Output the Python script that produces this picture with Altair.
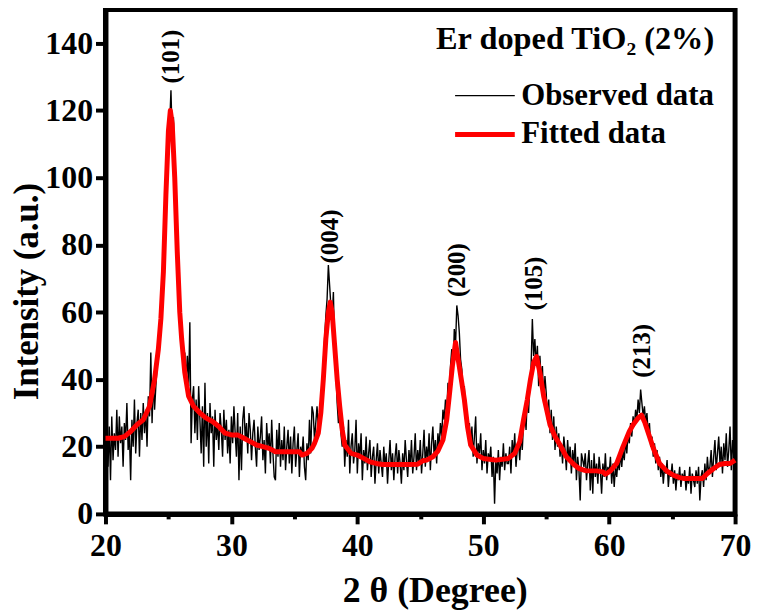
import altair as alt
import pandas as pd

# ---------------- data ----------------
obs_start = 20.0
obs_step = 0.1
obs_y = [
    22, 30, 14, 26, 10, 29, 16, 24, 19, 31,
    17, 29, 21, 26, 14, 27, 22, 33, 19, 24,
    10, 28, 20, 34, 18, 27, 31, 17, 30, 22,
    33, 24, 31, 20, 35, 29, 48, 27, 40, 31,
    38, 44, 47, 52, 56, 62, 70, 80, 92, 100,
    108, 116, 126, 112, 118, 96, 88, 76, 70, 62,
    55, 50, 44, 48, 40, 47, 38, 57, 21, 34,
    38, 24, 34, 22, 38, 28, 18, 32, 14, 39,
    20, 30, 15, 33, 24, 29, 14, 31, 22, 27,
    19, 30, 25, 17, 31, 22, 28, 18, 25, 15,
    29, 21, 32, 24, 17, 30, 10, 26, 13, 28,
    32, 22, 27, 18, 30, 25, 16, 24, 28, 20,
    14, 26, 19, 23, 29, 16, 22, 12, 27, 20,
    24, 15, 28, 18, 11, 10, 25, 17, 27, 14,
    22, 16, 26, 13, 20, 25, 15, 23, 12, 21,
    26, 14, 19, 24, 11, 20, 17, 23, 14, 10,
    21, 16, 28, 18, 32, 30, 22, 27, 32, 26,
    29, 33, 38, 45, 52, 59, 64, 74, 68, 62,
    58, 66, 48, 42, 33, 27, 30, 24, 20, 26,
    14, 22, 17, 28, 12, 20, 24, 15, 19, 28,
    12, 21, 17, 24, 10, 19, 15, 23, 13, 18,
    22, 11, 17, 20, 9, 16, 21, 12, 19, 15,
    11, 20, 14, 18, 9, 16, 22, 13, 18, 10,
    17, 21, 12, 19, 15, 9, 18, 13, 22, 16,
    11, 19, 14, 22, 12, 17, 24, 13, 19, 15,
    22, 12, 18, 25, 14, 20, 16, 24, 13, 21,
    26, 17, 22, 15, 24, 20, 27, 23, 31, 28,
    34, 30, 39, 35, 44, 49, 42, 55, 50, 62,
    59, 54, 46, 43, 34, 38, 28, 31, 24, 27,
    20, 26, 17, 23, 29, 15, 21, 18, 24, 13,
    19, 15, 22, 12, 18, 16, 20, 11, 17, 3,
    16, 12, 19, 10, 17, 14, 21, 13, 18, 15,
    15, 20, 12, 22, 17, 24, 14, 19, 21, 16,
    24, 19, 27, 31, 25, 35, 30, 39, 44, 58,
    47, 52, 44, 50, 38, 47, 40, 44, 33, 41,
    36, 28, 34, 24, 31, 22, 29, 19, 26, 20,
    24, 17, 21, 15, 23, 19, 13, 22, 16, 20,
    12, 19, 15, 21, 10, 17, 13, 4, 18, 16,
    14, 18, 10, 15, 19, 7, 16, 6, 18, 11,
    15, 9, 17, 13, 6, 15, 11, 18, 10, 14,
    12, 17, 9, 15, 8, 14, 11, 16, 13, 18,
    14, 19, 16, 22, 18, 24, 21, 27, 23, 29,
    26, 31, 28, 34, 30, 37, 33, 29, 32, 27,
    30, 24, 27, 20, 23, 17, 21, 15, 19, 13,
    17, 11, 15, 9, 14, 12, 16, 8, 13, 11,
    15, 9, 13, 7, 12, 10, 14, 8, 12, 10,
    13, 7, 11, 9, 14, 6, 12, 10, 8, 13,
    9, 14, 4, 11, 13, 8, 15, 10, 17, 12,
    14, 19, 11, 17, 22, 13, 18, 23, 15, 20,
    12, 21, 16, 24, 14, 19, 26, 13, 22, 17,
    19,
]
obs_x = [round(obs_start + i * obs_step, 1) for i in range(len(obs_y))]

fit_x = [20, 20.5, 21, 21.5, 22, 22.5, 23, 23.5, 23.9, 24.2, 24.4, 24.6, 24.8,
         25.0, 25.15, 25.3, 25.5, 25.7, 25.9, 26.05, 26.3, 26.6, 27, 27.5, 28,
         28.5, 29, 29.5, 30, 30.5, 31, 31.5, 32, 32.5, 33, 33.5, 34, 34.5, 35,
         35.4, 35.6, 36, 36.4, 36.6, 36.9, 37.1, 37.3, 37.5, 37.7, 37.85, 38.0,
         38.2, 38.4, 38.6, 38.8, 39.0, 39.5, 40, 40.5, 41, 41.5, 42, 43, 44,
         44.8, 45.2, 45.5, 46, 46.4, 46.8, 47.1, 47.3, 47.55, 47.8, 48.05, 48.3,
         48.5, 48.75, 49.0, 49.5, 50, 51, 52, 52.5, 52.9, 53.2, 53.5, 53.75,
         54.0, 54.23, 54.5, 54.8, 55.3, 55.7, 56.1, 56.6, 57.2, 57.6, 58.2, 59,
         59.5, 59.7, 60.1, 60.6, 61.1, 61.6, 61.9, 62.3, 62.57, 62.85, 63.2,
         63.5, 64.0, 64.55, 65.1, 65.6, 66, 67, 67.4, 67.8, 68.3, 68.76, 69.2,
         69.6, 70]
fit_y = [22.5, 22.5, 22.5, 23, 24.5, 26.5, 28, 32, 40, 49, 58, 72, 95,
         114, 120, 116, 100, 78, 60, 52, 42, 35, 32, 30, 28.5,
         27.5, 26, 24, 23.5, 23.5, 22.5, 21.5, 20.5, 20, 19.5, 18.5, 18.5, 18.5, 18.5,
         18.5, 17.5, 18, 19.5, 21, 24, 30, 40, 52, 60, 63, 60,
         50, 40, 32, 25, 20.5, 18, 17.5, 16.5, 15.5, 15, 14.7, 14.7, 14.7,
         14.8, 15.8, 16, 17, 18.7, 22, 28, 35, 44, 51, 45, 39,
         34, 26, 20.5, 17.5, 16.5, 16, 16.5, 18, 21.5, 28, 34, 40,
         45, 46.8, 42, 35, 26.5, 23, 20.5, 17, 14.7, 13.5, 12.8, 12.8,
         12.5, 11.8, 12.8, 15, 20, 24.5, 26.5, 28.5, 29.4, 27, 23,
         19.6, 15, 12.8, 11.5, 10.8, 10.5, 10.5, 10.5, 12, 13.5, 14.7, 15,
         15, 16]

peak_labels = ["(101)", "(004)", "(200)", "(105)", "(213)"]
peak_x = [25.2, 37.85, 47.9, 54.05, 62.6]
peak_label_y = [128, 74.5, 64.5, 60.5, 40.5]

series = ["Observed data", "Fitted data"]
series_colors = ["#000000", "#ff0000"]
series_widths = [1.4, 5]

x_ticks = [20, 25, 30, 35, 40, 45, 50, 55, 60, 65, 70]
y_ticks = [0, 10, 20, 30, 40, 50, 60, 70, 80, 90, 100, 110, 120, 130, 140]

FONT = "Liberation Serif"

obs_df = pd.DataFrame({"x": obs_x, "y": obs_y, "series": series[0]})
fit_df = pd.DataFrame({"x": fit_x, "y": fit_y, "series": series[1]})
lab_df = pd.DataFrame({"x": peak_x, "y": peak_label_y, "label": peak_labels})

x_axis = alt.Axis(
    values=x_ticks,
    labelExpr="datum.value % 10 == 0 ? datum.label : ''",
    tickSize={"condition": {"test": "datum.value % 10 == 0", "value": 10}, "value": 5},
    labelPadding=7,
    labelFlush=False,
    titlePadding=12,
    titleX=331,
    grid=False,
)
y_axis = alt.Axis(
    values=y_ticks,
    labelExpr="datum.value % 20 == 0 ? datum.label : ''",
    tickSize={"condition": {"test": "datum.value % 20 == 0", "value": 10}, "value": 5},
    labelPadding=3,
    labelFlush=False,
    titlePadding=0,
    titleY=283,
    titleFontSize=35,
    grid=False,
)

x_enc = alt.X("x:Q", scale=alt.Scale(domain=[20, 70], nice=False, zero=False),
              axis=x_axis, title="2 θ (Degree)")
y_enc = alt.Y("y:Q", scale=alt.Scale(domain=[0, 150], nice=False),
              axis=y_axis, title="Intensity (a.u.)")

legend = alt.Legend(
    title="Er doped TiO₂ (2%)",
    orient="none",
    legendX=326,
    legendY=14,
    titleFont=FONT,
    titleFontSize=32.5,
    titleFontWeight="bold",
    titleColor="black",
    titleAnchor="end",
    titlePadding=22,
    labelFont=FONT,
    labelFontSize=31,
    labelFontWeight="bold",
    labelColor="black",
    labelOffset=4,
    symbolType="stroke",
    symbolSize=3600,
    symbolOffset=23,
    clipHeight=36,
    rowPadding=3,
    labelLimit=400,
    titleLimit=500,
)

color_enc = alt.Color("series:N", scale=alt.Scale(domain=series, range=series_colors), legend=legend)
width_enc = alt.StrokeWidth("series:N", scale=alt.Scale(domain=series, range=series_widths), legend=legend)

obs_line = alt.Chart(obs_df).mark_line(interpolate="linear").encode(
    x=x_enc, y=y_enc, color=color_enc, strokeWidth=width_enc
)
fit_line = alt.Chart(fit_df).mark_line(interpolate="linear", strokeJoin="round").encode(
    x=x_enc, y=y_enc, color=color_enc, strokeWidth=width_enc
)
labels = alt.Chart(lab_df).mark_text(
    angle=270, align="left", baseline="middle", font=FONT, fontSize=25,
    fontWeight="bold", color="black"
).encode(x="x:Q", y="y:Q", text="label:N")

chart = alt.layer(obs_line, fit_line, labels).properties(
    width=633, height=507, background="white",
    padding={"left": 2, "top": 0, "right": 0, "bottom": 0}
).configure_view(
    stroke="black", strokeWidth=5
).configure_axis(
    domainColor="black", domainWidth=5, tickColor="black", tickWidth=4,
    labelFont=FONT, labelFontSize=32, labelFontWeight="bold", labelColor="black",
    titleFont=FONT, titleFontSize=36, titleFontWeight="bold", titleColor="black",
)

chart.save("out.html", embed_options={"renderer": "svg", "actions": False})
